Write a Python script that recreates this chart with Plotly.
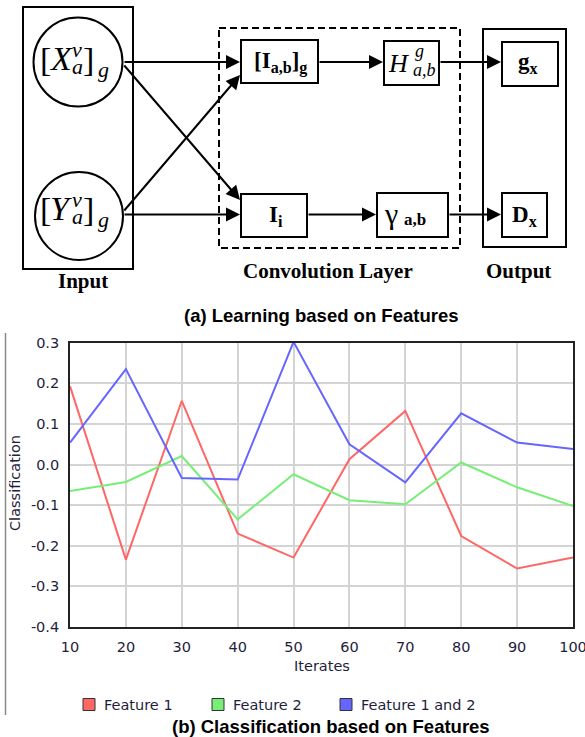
import plotly.graph_objects as go

# ---------------- data ----------------
iterates = [10, 20, 30, 40, 50, 60, 70, 80, 90, 100]
feature1 = [0.193, -0.234, 0.157, -0.170, -0.229, 0.013, 0.132, -0.176, -0.256, -0.229]
feature2 = [-0.065, -0.043, 0.021, -0.135, -0.024, -0.088, -0.098, 0.005, -0.056, -0.102]
feature12 = [0.054, 0.235, -0.033, -0.037, 0.302, 0.050, -0.044, 0.126, 0.054, 0.038]
series_names = ["Feature 1", "Feature 2", "Feature 1 and 2"]
series_colors = ["#ff6666", "#77ee77", "#6666ff"]
x_ticks = [10, 20, 30, 40, 50, 60, 70, 80, 90, 100]
y_ticks = [-0.4, -0.3, -0.2, -0.1, 0.0, 0.1, 0.2, 0.3]
y_tick_text = ["-0.4", "-0.3", "-0.2", "-0.1", "0.0", "0.1", "0.2", "0.3"]

W, H = 585, 737
SANS = "DejaVu Sans"
SERIF = "Liberation Serif"
NAVY = "#1e1e3c"

fig = go.Figure()
for name, vals, col in zip(series_names, [feature1, feature2, feature12], series_colors):
    fig.add_trace(go.Scatter(x=iterates, y=vals, mode="lines", name=name,
                             line=dict(color=col, width=2), showlegend=False,
                             xaxis="x", yaxis="y"))
# helper trace for the diagram canvas
fig.add_trace(go.Scatter(x=[None], y=[None], xaxis="x2", yaxis="y2",
                         showlegend=False, hoverinfo="skip"))

# ---------------- diagram (pixel canvas) ----------------
shapes = []
annotations = []

def P(x, y):
    return dict(xref="x2", yref="y2", x=x, y=y)

def rect(x0, y0, x1, y1, dash=None, fill=None, color="black", width=2):
    d = dict(type="rect", xref="x2", yref="y2", x0=x0, y0=y0, x1=x1, y1=y1,
             line=dict(color=color, width=width, dash=dash))
    if fill:
        d["fillcolor"] = fill
    shapes.append(d)

def circ(cx, cy, r):
    shapes.append(dict(type="circle", xref="x2", yref="y2", x0=cx - r, y0=cy - r,
                       x1=cx + r, y1=cy + r, line=dict(color="black", width=2)))

def txt(x, y, s, size, family=SERIF, style="normal", color="black", xanchor="center"):
    annotations.append(dict(**P(x, y), text=s, showarrow=False, xanchor=xanchor,
                            yanchor="middle",
                            font=dict(family=family, size=size, color=color, style=style)))

def arrow(x0, y0, x1, y1):
    annotations.append(dict(**P(x1, y1), ax=x0, ay=y0, axref="x2", ayref="y2", text="",
                            showarrow=True, arrowhead=2, arrowsize=1.4, arrowwidth=2,
                            arrowcolor="black", standoff=0, startstandoff=0))

rect(23, 7, 133, 269)
circ(78, 62, 44.5)
circ(79, 216, 44)
rect(219, 28, 460, 248, dash="7px,4px")
rect(241, 40, 318, 83)
rect(384, 41, 439, 85)
rect(241, 194, 307, 237)
rect(377, 193, 448, 237)
rect(483, 29, 566, 247)
rect(502, 42, 558, 86)
rect(502, 193, 547, 237)

arrow(123, 62, 240, 62)
arrow(123, 64, 240, 200)
arrow(123, 214.5, 240, 214.5)
arrow(123, 212, 240, 75)
arrow(318, 62, 383, 62)
arrow(439, 62, 501, 62)
arrow(307, 214.5, 376, 214.5)
arrow(448, 214.5, 501, 214.5)

for dy, letter in [(0, "X"), (150, "Y")]:
    txt(45.5, 59 + dy, "[", 34)
    txt(61, 58 + dy, letter, 34, style="italic")
    txt(77, 49 + dy, "v", 22, style="italic")
    txt(77, 66 + dy, "a", 22, style="italic")
    txt(88.5, 59 + dy, "]", 34)
    txt(103, 69 + dy, "g", 22, style="italic")

txt(280, 62, "<b>[I<sub>a,b</sub>]<sub>g</sub></b>", 23)
txt(398, 63, "H", 26, style="italic")
txt(419, 51, "g", 18, style="italic")
txt(424, 70, "a,b", 18, style="italic")
txt(276, 216, "<b>I<sub>i</sub></b>", 23)
txt(391, 213, "γ", 30)
txt(415, 219, "<b>a,b</b>", 17)
txt(524, 216, "<b>D<sub>x</sub></b>", 23)
txt(528, 63, "<b>g<sub>x</sub></b>", 23)

txt(83, 281, "<b>Input</b>", 21)
txt(328, 271, "<b>Convolution Layer</b>", 21)
txt(518, 271, "<b>Output</b>", 21)

# chart titles & axis titles
txt(321, 315, "<b>(a) Learning based on Features</b>", 18.5, family="Liberation Sans")
txt(331, 726, "<b>(b) Classification based on Features</b>", 18.5, family="Liberation Sans")
txt(322, 666, "Iterates", 14.5, family=SANS, color=NAVY)
annotations.append(dict(**P(15, 483), text="Classification", showarrow=False,
                        textangle=-90, xanchor="center", yanchor="middle",
                        font=dict(family=SANS, size=14.5, color=NAVY)))

# legend (drawn as key boxes + labels)
legend_x = [83, 212, 340]
for lx, name, col in zip(legend_x, series_names, series_colors):
    rect(lx, 698.5, lx + 12, 710.5, fill=col, color="#333333", width=1)
    txt(lx + 19, 704.5, name, 14.5, family=SANS, color=NAVY, xanchor="left")

# left border of sub-figure (b)
shapes.append(dict(type="line", xref="x2", yref="y2", x0=5.5, y0=333, x1=5.5, y1=715,
                   line=dict(color="#8a8a8a", width=1.5)))

fig.update_layout(
    width=W, height=H, margin=dict(l=0, r=0, t=0, b=0, autoexpand=False),
    paper_bgcolor="white", plot_bgcolor="rgba(0,0,0,0)", showlegend=False,
    xaxis=dict(domain=[70 / W, 573 / W], range=[10, 100], tickvals=x_ticks,
               showgrid=True, gridcolor="#d4d4d4", gridwidth=1.5,
               showline=True, linecolor="#222222", linewidth=1.8, mirror=True,
               zeroline=False, ticks="", ticklabelstandoff=6,
               ticklabeloverflow="allow",
               tickfont=dict(family=SANS, size=14.5, color=NAVY)),
    yaxis=dict(domain=[1 - 627 / H, 1 - 342.7 / H], range=[-0.4, 0.3],
               tickvals=y_ticks, ticktext=y_tick_text,
               showgrid=True, gridcolor="#d4d4d4", gridwidth=1.5,
               showline=True, linecolor="#222222", linewidth=1.8, mirror=True,
               zeroline=False, ticks="", ticklabelstandoff=6,
               tickfont=dict(family=SANS, size=14.5, color=NAVY)),
    xaxis2=dict(domain=[0, 1], range=[0, W], visible=False, fixedrange=True,
                anchor="y2"),
    yaxis2=dict(domain=[0, 1], range=[H, 0], visible=False, fixedrange=True,
                anchor="x2"),
    shapes=shapes, annotations=annotations,
)

fig.write_html("out.html")
